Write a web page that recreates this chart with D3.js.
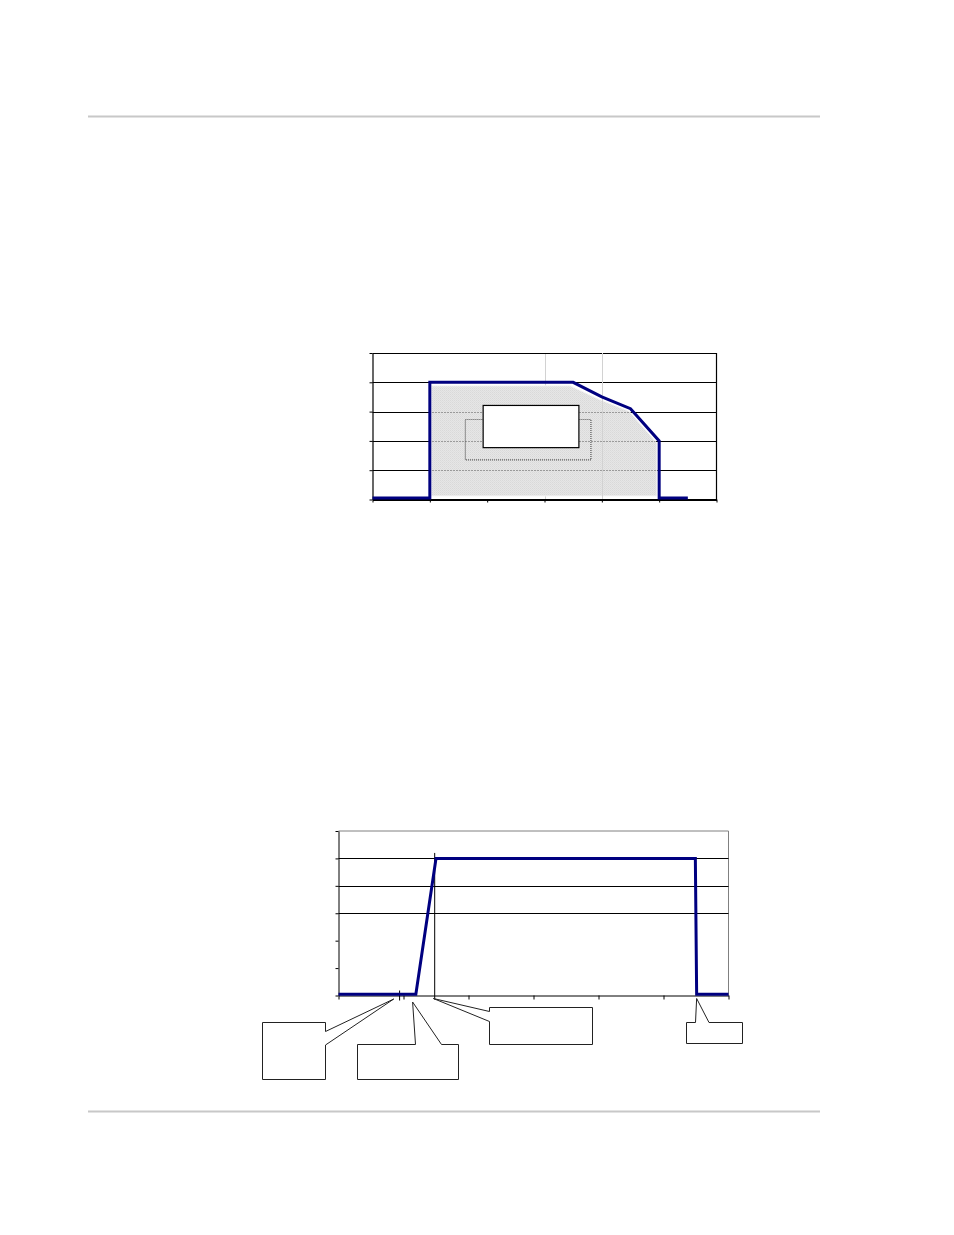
<!DOCTYPE html>
<html>
<head>
<meta charset="utf-8">
<script src="https://cdn.jsdelivr.net/npm/d3@7"></script>
<style>
  body { margin: 0; background: #fff; }
  svg { display: block; }
</style>
</head>
<body>
<svg id="page" width="954" height="1235"></svg>
<script>
// Upper chart: operating envelope
const topTicksX = [0, 1, 2, 3, 4, 5, 6];
const topTicksY = [0, 1, 2, 3, 4, 5];
const topLineX = [0, 1, 1, 3.5, 4, 4.5, 5, 5, 5.5];
const topLineY = [0.05, 0.05, 4, 4, 3.5, 3.1, 2, 0.05, 0.05];
const bandX = [1.03, 3.45, 3.95, 4.47, 4.96];
const bandUpper = [3.88, 3.88, 3.42, 3.02, 1.93];
const bandLower = [0.12, 0.12, 0.12, 0.12, 0.12];

// Lower chart: start-up profile
const lowTicksX = [0, 1, 2, 3, 4, 5, 6];
const lowTicksY = [0, 1, 2, 3, 4, 5, 6];
const lowGridY = [3, 4, 5];
const lowLineX = [0, 1.19, 1.5, 5.49, 5.51, 6];
const lowLineY = [0.05, 0.05, 5, 5, 0.05, 0.05];
const dropX = 1.48;
const markX = 0.94;
const calloutAt = [0.85, 1.14, 1.46, 5.51];

const svg = d3.select("#page");
const navy = "#000080";

svg.append("rect").attr("width", 954).attr("height", 1235).attr("fill", "#fff");

// page rules
[116.5, 1111.5].forEach((y) => {
  svg.append("line")
    .attr("x1", 88).attr("x2", 820).attr("y1", y).attr("y2", y)
    .attr("stroke", "#c8c8c8").attr("stroke-width", 2);
});

// texture for the shaded band
const defs = svg.append("defs");
const pat = defs.append("pattern")
  .attr("id", "hatch").attr("width", 2).attr("height", 2)
  .attr("patternUnits", "userSpaceOnUse");
pat.append("rect").attr("width", 2).attr("height", 2).attr("fill", "#e6e6e6");
pat.append("rect").attr("width", 1).attr("height", 1).attr("fill", "#d9d9d9");
pat.append("rect").attr("x", 1).attr("y", 1).attr("width", 1).attr("height", 1).attr("fill", "#dedede");

// ---------- upper chart ----------
const xT = d3.scaleLinear().domain([0, 6]).range([372.5, 716.5]);
const yT = d3.scaleLinear().domain([0, 5]).range([499.5, 353]);
const gT = svg.append("g");

function vGrid(v) {
  gT.append("line")
    .attr("x1", Math.round(xT(v)) + 0.5).attr("x2", Math.round(xT(v)) + 0.5)
    .attr("y1", yT(5)).attr("y2", yT(0))
    .attr("stroke", "#d2d2d2").attr("stroke-width", 1);
}

// faint vertical gridline hidden behind the band
vGrid(3);

// horizontal gridlines
gT.selectAll(".hg").data(topTicksY.slice(1)).enter().append("line")
  .attr("x1", xT(0)).attr("x2", xT(6))
  .attr("y1", (d) => Math.round(yT(d)) + 0.5).attr("y2", (d) => Math.round(yT(d)) + 0.5)
  .attr("stroke", "#000").attr("stroke-width", 1.2);

// right border
gT.append("line")
  .attr("x1", xT(6)).attr("x2", xT(6)).attr("y1", yT(5)).attr("y2", yT(0))
  .attr("stroke", "#000").attr("stroke-width", 1.2);

// shaded band
const bandData = bandX.map((x, i) => ({ x, hi: bandUpper[i], lo: bandLower[i] }));
const band = d3.area()
  .x((d) => xT(d.x)).y0((d) => yT(d.lo)).y1((d) => yT(d.hi));
defs.append("clipPath").attr("id", "bandClip")
  .append("path").attr("d", band(bandData));
gT.append("path").attr("d", band(bandData))
  .attr("fill", "url(#hatch)").attr("stroke", "#f6f6f6").attr("stroke-width", 1);

// faint vertical gridline showing through the band
vGrid(4);

// dotted gridlines seen through the band
const inner = gT.append("g").attr("clip-path", "url(#bandClip)");
inner.selectAll("line").data([1, 2, 3]).enter().append("line")
  .attr("x1", xT(0)).attr("x2", xT(6))
  .attr("y1", (d) => Math.round(yT(d)) + 0.5).attr("y2", (d) => Math.round(yT(d)) + 0.5)
  .attr("stroke", "#555").attr("stroke-width", 1).attr("stroke-dasharray", "1,2");

// label frames inside the band
gT.append("rect")
  .attr("x", xT(1.62)).attr("y", yT(2.73))
  .attr("width", xT(3.81) - xT(1.62)).attr("height", yT(1.35) - yT(2.73))
  .attr("fill", "none").attr("stroke", "#555").attr("stroke-width", 1.2)
  .attr("stroke-dasharray", "1,1");
gT.append("rect")
  .attr("x", xT(1.93)).attr("y", yT(3.21))
  .attr("width", xT(3.6) - xT(1.93)).attr("height", yT(1.77) - yT(3.21))
  .attr("fill", "#fff").attr("stroke", "#000").attr("stroke-width", 1.2);

// axes
gT.append("g").attr("transform", `translate(0,${yT(0)})`)
  .call(d3.axisBottom(xT).tickValues(topTicksX).tickSize(3).tickSizeOuter(0).tickFormat(""))
  .call((g) => g.select(".domain").attr("stroke-width", 2));
gT.append("g").attr("transform", `translate(${xT(0)},0)`)
  .call(d3.axisLeft(yT).tickValues(topTicksY).tickSize(3).tickSizeOuter(0).tickFormat(""))
  .call((g) => g.select(".domain").attr("stroke-width", 1.2));

// envelope line
const topLine = d3.line().x((d) => xT(d[0])).y((d) => yT(d[1]));
gT.append("path")
  .attr("d", topLine(topLineX.map((x, i) => [x, topLineY[i]])))
  .attr("fill", "none").attr("stroke", navy).attr("stroke-width", 3)
  .attr("stroke-linejoin", "miter");

// ---------- lower chart ----------
const xB = d3.scaleLinear().domain([0, 6]).range([338.5, 728.5]);
const yB = d3.scaleLinear().domain([0, 6]).range([995.5, 831]);
const gB = svg.append("g");

// plot border (top and right)
gB.append("path")
  .attr("d", `M${xB(0)},${yB(6)}H${xB(6)}V${yB(0)}`)
  .attr("fill", "none").attr("stroke", "#808080").attr("stroke-width", 1);

gB.selectAll(".hg").data(lowGridY).enter().append("line")
  .attr("x1", xB(0)).attr("x2", xB(6))
  .attr("y1", (d) => Math.round(yB(d)) + 0.5).attr("y2", (d) => Math.round(yB(d)) + 0.5)
  .attr("stroke", "#000").attr("stroke-width", 1.1);

// drop line at top of ramp
gB.append("line")
  .attr("x1", xB(dropX)).attr("x2", xB(dropX)).attr("y1", yB(5.2)).attr("y2", yB(0) + 4)
  .attr("stroke", "#000").attr("stroke-width", 1);

// small marker on the axis
gB.append("line")
  .attr("x1", xB(markX)).attr("x2", xB(markX)).attr("y1", yB(0) - 5).attr("y2", yB(0) + 5)
  .attr("stroke", "#000").attr("stroke-width", 1);

gB.append("g").attr("transform", `translate(0,${yB(0)})`)
  .call(d3.axisBottom(xB).tickValues(lowTicksX).tickSize(4).tickSizeOuter(0).tickFormat(""));
gB.append("g").attr("transform", `translate(${xB(0)},0)`)
  .call(d3.axisLeft(yB).tickValues(lowTicksY).tickSize(3).tickSizeOuter(0).tickFormat(""));

const lowLine = d3.line().x((d) => xB(d[0])).y((d) => yB(d[1]));
gB.append("path")
  .attr("d", lowLine(lowLineX.map((x, i) => [x, lowLineY[i]])))
  .attr("fill", "none").attr("stroke", navy).attr("stroke-width", 3);

// callout boxes (text removed in source), wedge pointers to the axis
function callout(box, side, a, b, tipX, tipY) {
  const { x0, y0, x1, y1 } = box;
  let d;
  if (side === "right") {
    d = `M${x0},${y0}H${x1}V${a}L${tipX},${tipY}L${x1},${b}V${y1}H${x0}Z`;
  } else if (side === "left") {
    d = `M${x0},${y0}H${x1}V${y1}H${x0}V${b}L${tipX},${tipY}L${x0},${a}Z`;
  } else {
    d = `M${x0},${y0}H${a}L${tipX},${tipY}L${b},${y0}H${x1}V${y1}H${x0}Z`;
  }
  gB.append("path").attr("d", d)
    .attr("fill", "#fff").attr("stroke", "#222").attr("stroke-width", 1)
    .attr("stroke-linejoin", "miter");
}
callout({ x0: 262.5, y0: 1022.5, x1: 325.5, y1: 1079.5 }, "right", 1031.5, 1045, xB(calloutAt[0]), 999);
callout({ x0: 357.5, y0: 1044.5, x1: 458.5, y1: 1079.5 }, "top", 415.5, 441.5, xB(calloutAt[1]), 1002);
callout({ x0: 489.5, y0: 1007.5, x1: 592.5, y1: 1044.5 }, "left", 1011.5, 1021.5, xB(calloutAt[2]), 998.5);
callout({ x0: 686.5, y0: 1022.5, x1: 742.5, y1: 1043.5 }, "top", 695.5, 709, xB(calloutAt[3]), 998.5);
</script>
</body>
</html>
